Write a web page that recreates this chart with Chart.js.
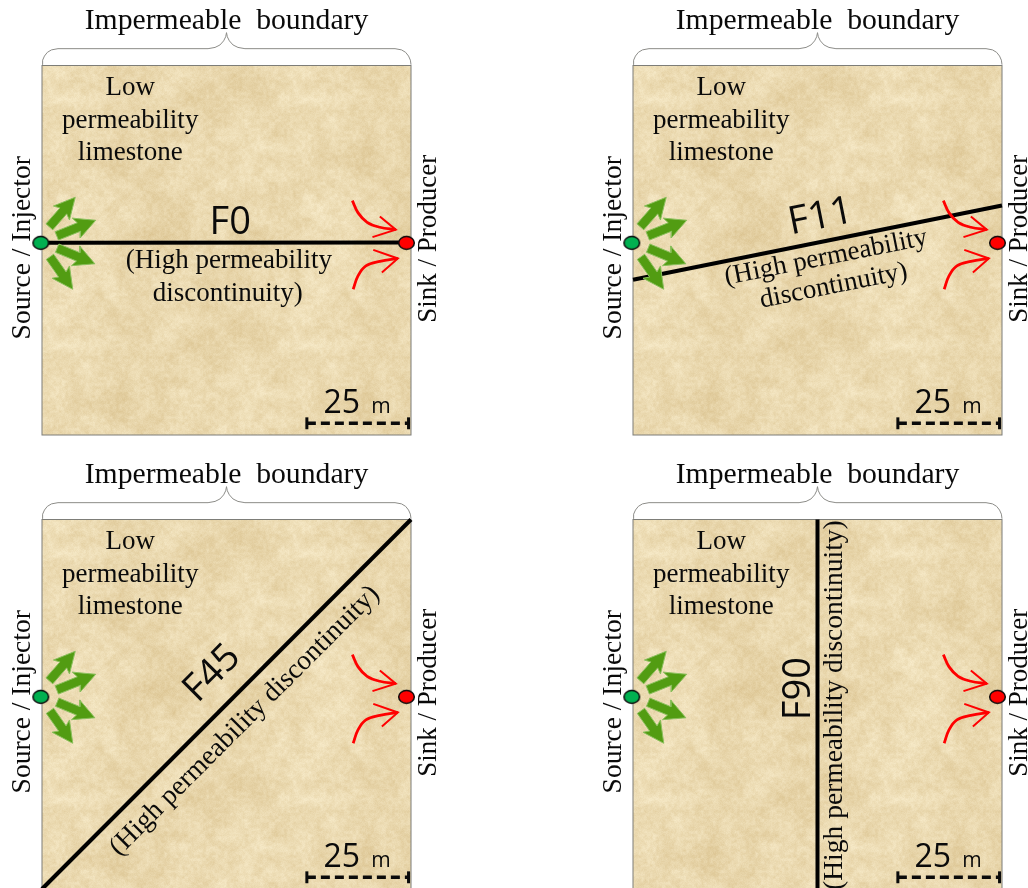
<!DOCTYPE html>
<html><head><meta charset="utf-8">
<style>
html,body{margin:0;padding:0;background:#fff;width:1028px;height:888px;overflow:hidden}
.p{position:absolute;width:460px;height:445px}
canvas{display:block}
</style>
<script src="https://cdn.jsdelivr.net/npm/chart.js@4"></script>
</head><body>
<div class="p" style="left:0;top:0"><canvas id="c0" width="460" height="445"></canvas></div>
<div class="p" style="left:591px;top:0"><canvas id="c1" width="460" height="445"></canvas></div>
<div class="p" style="left:0;top:454px"><canvas id="c2" width="460" height="445"></canvas></div>
<div class="p" style="left:591px;top:454px"><canvas id="c3" width="460" height="445"></canvas></div>
<script>
// ---- values, all in metres in a 90 m x 90 m domain ----
const panelNames = ["F0", "F11", "F45", "F90"];
const fractureF0  = [[0, 46.8], [88.9, 46.9]];
const fractureF11 = [[0, 37.8], [90, 55.9]];
const fractureF45 = [[0, 0], [90, 90]];
const fractureF90 = [[45, 0], [45, 90]];
const sourceWell = [[-0.3, 46.8]];
const sinkWell   = [[88.9, 46.8]];
const greenArrowTails = [[1.8, 50.7], [3.6, 48.5], [3.7, 45.5], [1.95, 43.4]];
const greenArrowTips  = [[8.1, 57.9], [13.1, 52.3], [12.9, 41.7], [7.5, 35.5]];
const redUpperCurve = [[75.7, 57.1], [77.1, 54.1], [79.3, 51.8], [82.4, 50.6], [86.3, 50]];
const redUpperHead  = [[82.4, 53.2], [86.3, 50], [80.6, 48.2]];
const redLowerCurve = [[75.9, 35.5], [77.1, 38.8], [79, 41.2], [82.4, 42.3], [86.8, 43]];
const redLowerHead  = [[80.8, 45.1], [86.8, 43], [82.9, 39.6]];
const scaleBar = [[64.6, 2.85], [89.4, 2.85]];
const scaleCapLeft = [[64.6, 1.4], [64.6, 4.3]];
const scaleCapRight = [[89.4, 1.4], [89.4, 4.3]];
const braceLeft = [[0, 90.2], [0.15, 91.3], [0.6, 92.3], [1.3, 93.2], [2.3, 93.8], [3.9, 94.1], [40.5, 94.1], [42.2, 94.4], [43.4, 95], [44.3, 96], [44.8, 97], [45, 98]];
const titleText = "Impermeable  boundary";
const rockLines = ["Low", "permeability", "limestone"];
const sourceText = "Source / Injector";
const sinkText = "Sink / Producer";
const fractureNote = ["(High permeability", "discontinuity)"];
const fractureNoteOneLine = "(High permeability discontinuity)";
const scaleNumber = "25";
const scaleUnit = "m";

// ---- helpers ----
const pts = a => a.map(p => ({x: p[0], y: p[1]}));
const SERIF = '"Liberation Serif", serif', SANS = '"Open Sans", sans-serif';

function arrowPolygon(t, p) {
  const L = Math.hypot(p[0]-t[0], p[1]-t[1]), ux = (p[0]-t[0])/L, uy = (p[1]-t[1])/L, nx = -uy, ny = ux;
  const sw = 1.1, hw = 2.6, hl = 4.4;
  const at = (a, b) => [t[0]+ux*a+nx*b, t[1]+uy*a+ny*b];
  return [at(0,-sw), at(L-hl,-sw), at(L-hl-0.7,-hw), p, at(L-hl-0.7,hw), at(L-hl,sw), at(0,sw), at(0,-sw)];
}
function wellSprite(color) {
  const c = document.createElement('canvas'); c.width = 19; c.height = 16;
  const g = c.getContext('2d');
  g.beginPath(); g.ellipse(9.5, 8, 7.8, 6.4, 0, 0, Math.PI*2);
  g.fillStyle = color; g.fill(); g.lineWidth = 1.5; g.strokeStyle = '#0a0a0a'; g.stroke();
  return c;
}
// paper-like texture tile (deterministic, purely decorative)
function hash(i, j) { const s = Math.sin(i*127.1 + j*311.7)*43758.5453; return s - Math.floor(s); }
function vnoise(x, y, cell, per) {
  const fx = x/cell, fy = y/cell, i = Math.floor(fx), j = Math.floor(fy);
  let u = fx-i, v = fy-j; u = u*u*(3-2*u); v = v*v*(3-2*v);
  const h = (a, b) => hash(((a%per)+per)%per + cell*7, ((b%per)+per)%per + cell*3);
  return (h(i,j)*(1-u)+h(i+1,j)*u)*(1-v) + (h(i,j+1)*(1-u)+h(i+1,j+1)*u)*v;
}
function makeTile() {
  const S = 246, c = document.createElement('canvas'); c.width = c.height = S;
  const g = c.getContext('2d'), im = g.createImageData(S, S);
  for (let y = 0; y < S; y++) for (let x = 0; x < S; x++) {
    const v = 0.3*vnoise(x,y,41,6) + 0.3*vnoise(x,y,12.3,20) + 0.25*vnoise(x,y,3,82) + 0.15*vnoise(x,y,1,246) - 0.5;
    const k = (y*S+x)*4;
    im.data[k] = 233 + v*36; im.data[k+1] = 215 + v*50; im.data[k+2] = 173 + v*72; im.data[k+3] = 255;
  }
  g.putImageData(im, 0, 0);
  return c;
}
const tile = makeTile();
const spriteG = wellSprite('#00B050'), spriteR = wellSprite('#FF0000');

function put(chart, text, xm, ym, rot, font) {
  const c = chart.ctx, X = chart.scales.x.getPixelForValue(xm), Y = chart.scales.y.getPixelForValue(ym);
  c.save(); c.translate(X, Y); c.rotate(rot*Math.PI/180);
  c.font = font; c.fillStyle = '#0a0a0a'; c.textAlign = 'center'; c.textBaseline = 'alphabetic';
  c.fillText(text, 0, 0); c.restore();
}
const BODY = '27px ' + SERIF, LONG = '27.5px ' + SERIF, NAME = '38px ' + SANS;
const fractureLabels = {
  F0(ch) {
    put(ch, 'F0', 45.9, 49, 0, NAME);
    put(ch, fractureNote[0], 45.6, 40.7, 0, BODY);
    put(ch, fractureNote[1], 45.3, 32.7, 0, BODY);
  },
  F11(ch) {
    put(ch, 'F11', 46.3, 50.4, -11.3, '39px ' + SANS);
    put(ch, fractureNote[0], 47.4, 41.5, -11.3, BODY);
    put(ch, fractureNote[1], 49.3, 34.6, -11.3, BODY);
  },
  F45(ch) {
    put(ch, 'F45', 43.4, 50.6, -45, NAME);
    put(ch, fractureNoteOneLine, 50.7, 39.7, -45, LONG);
  },
  F90(ch) {
    put(ch, 'F90', 43.2, 48.8, -90, NAME);
    put(ch, fractureNoteOneLine, 51, 44.8, -90, LONG);
  }
};
const decor = {
  id: 'decor',
  beforeDatasetsDraw(ch) {
    const c = ch.ctx, a = ch.chartArea;
    c.save(); c.fillStyle = c.createPattern(tile, 'repeat');
    c.fillRect(a.left, a.top, a.width, a.height);
    c.strokeStyle = '#7d7d78'; c.lineWidth = 1;
    c.strokeRect(a.left, a.top, a.width, a.height);
    c.restore();
  },
  afterDatasetsDraw(ch) {
    put(ch, titleText, 45, 98.9, 0, '29.7px ' + SERIF);
    put(ch, rockLines[0], 21.5, 82.8, 0, BODY);
    put(ch, rockLines[1], 21.5, 74.8, 0, BODY);
    put(ch, rockLines[2], 21.5, 66.9, 0, BODY);
    put(ch, sourceText, -2.9, 45.6, -90, LONG);
    put(ch, sinkText, 96.1, 47.8, -90, BODY);
    put(ch, scaleNumber, 73.1, 5.3, 0, '32px ' + SANS);
    put(ch, scaleUnit, 82.7, 5.3, 0, '21px ' + SANS);
    fractureLabels[ch.options.plugins.decor.name](ch);
  }
};

function lineSet(data, color, width, extra) {
  return Object.assign({data: pts(data), showLine: true, borderColor: color, borderWidth: width,
    pointRadius: 0, pointHoverRadius: 0, tension: 0, clip: false, fill: false}, extra || {});
}
function makeChart(id, name, fracture) {
  const braceAll = braceLeft.concat(braceLeft.slice(0, -1).reverse().map(p => [90 - p[0], p[1]]));
  const arrows = greenArrowTails.map((t, i) => lineSet(arrowPolygon(t, greenArrowTips[i]), '#8ABF5C', 1,
    {fill: 'shape', backgroundColor: '#529C12'}));
  const datasets = [
    {data: pts(sourceWell), pointStyle: spriteG, pointRadius: 8, clip: false},
    {data: pts(sinkWell), pointStyle: spriteR, pointRadius: 8, clip: false},
    ...arrows,
    lineSet(redUpperCurve, '#FF0000', 2.8, {tension: 0.4}),
    lineSet(redUpperHead, '#FF0000', 2),
    lineSet(redLowerCurve, '#FF0000', 2.8, {tension: 0.4}),
    lineSet(redLowerHead, '#FF0000', 2),
    lineSet(scaleBar, '#0a0a0a', 3.5, {borderDash: [9, 5]}),
    lineSet(scaleCapLeft, '#0a0a0a', 3),
    lineSet(scaleCapRight, '#0a0a0a', 3),
    lineSet(fracture, '#000000', 4),
    lineSet(braceAll, '#8c8c88', 1)
  ];
  return new Chart(document.getElementById(id), {
    type: 'scatter',
    data: {datasets},
    plugins: [decor],
    options: {
      responsive: false, animation: false, devicePixelRatio: 1, events: [],
      layout: {padding: {left: 42, right: 49, top: 65.5, bottom: 10}},
      scales: {
        x: {type: 'linear', min: 0, max: 90, display: false},
        y: {type: 'linear', min: 0, max: 90, display: false}
      },
      plugins: {legend: {display: false}, tooltip: {enabled: false}, title: {display: false}, decor: {name}}
    }
  });
}
makeChart('c0', panelNames[0], fractureF0);
makeChart('c1', panelNames[1], fractureF11);
makeChart('c2', panelNames[2], fractureF45);
makeChart('c3', panelNames[3], fractureF90);
</script>
</body></html>
